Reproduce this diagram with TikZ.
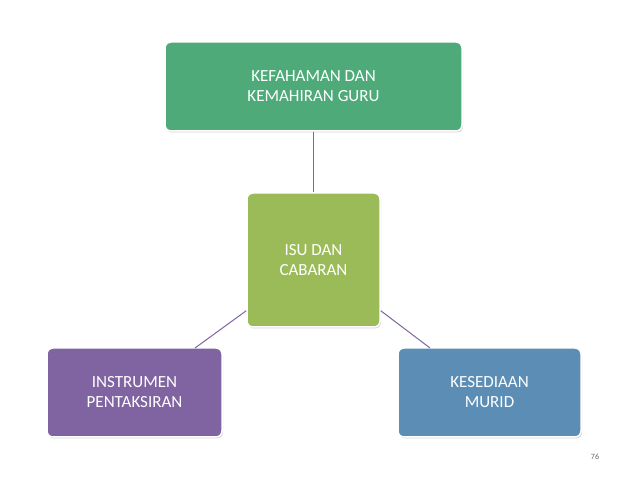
\documentclass[tikz,border=0pt]{standalone}
\usepackage{fontspec}
\setmainfont{Carlito}
\usetikzlibrary{shadows}
\definecolor{cTop}{HTML}{4EAA78}
\definecolor{cMid}{HTML}{9BBB59}
\definecolor{cLeft}{HTML}{8064A2}
\definecolor{cRight}{HTML}{5B8DB5}
\definecolor{cLine}{HTML}{8064A2}
\tikzset{
  box/.style={rounded corners=6pt, draw=white, line width=1.5pt, text=white, align=center,
    font=\fontsize{17}{20}\selectfont, inner sep=0pt,
    drop shadow={shadow xshift=1pt, shadow yshift=-1.5pt, opacity=0.35}},
  link/.style={draw=cLine, line width=1pt}
}
\begin{document}
\begin{tikzpicture}[x=1pt,y=1pt]
\useasboundingbox (0,0) rectangle (638,479);
\node[box, fill=cTop, minimum width=297, minimum height=89] (top) at (313.5,392.5) {KEFAHAMAN DAN\\KEMAHIRAN GURU};
\node[box, fill=cMid, minimum width=133, minimum height=134] (mid) at (313.5,219) {ISU DAN\\CABARAN};
\node[box, fill=cLeft, minimum width=175, minimum height=89] (left) at (134.5,86.5) {INSTRUMEN\\PENTAKSIRAN};
\node[box, fill=cRight, minimum width=183, minimum height=89] (right) at (489.5,86.5) {KESEDIAAN\\MURID};
\node[font=\fontsize{8}{9}\selectfont, text=black!60] (pg) at (595,22) {76};
\draw[link] (top.south) -- (mid.north);
\draw[link] ([yshift=17]mid.south west) -- (195,131) coordinate (l1);
\draw[link] ([yshift=17]mid.south east) -- (430,131) coordinate (r1);
\end{tikzpicture}
\end{document}
